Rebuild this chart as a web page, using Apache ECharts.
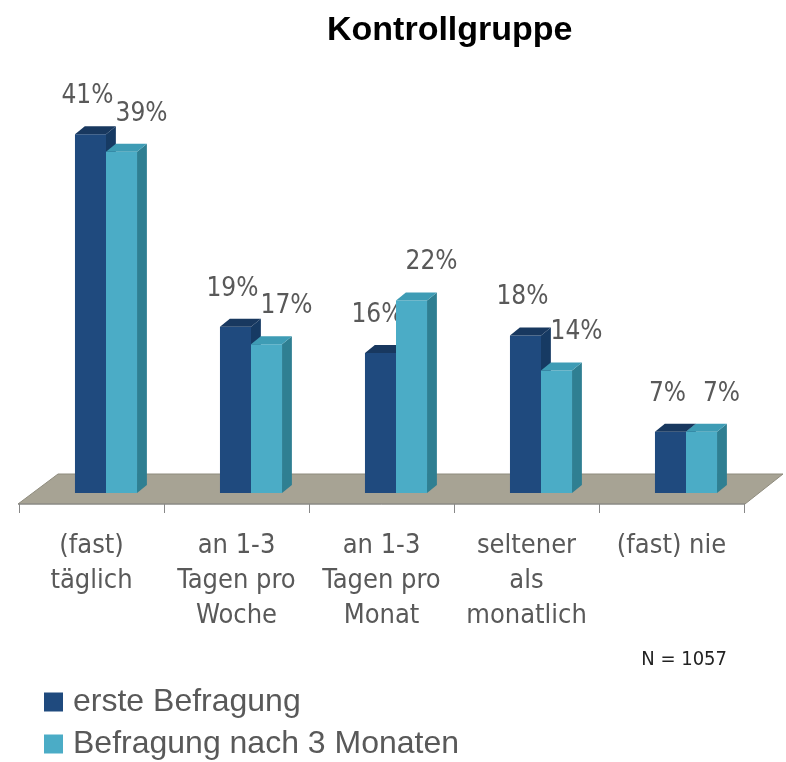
<!DOCTYPE html>
<html>
<head>
<meta charset="utf-8">
<title>Kontrollgruppe</title>
<script src="https://cdn.jsdelivr.net/npm/echarts@6/dist/echarts.min.js"></script>
<style>
  html, body { margin: 0; padding: 0; background: #fff; }
  #chart { width: 786px; height: 762px; }
</style>
</head>
<body>
<div id="chart"></div>
<script>
// Kategorien und Werte (Prozent)
const categories = [
  '(fast)\ntäglich',
  'an 1-3\nTagen pro\nWoche',
  'an 1-3\nTagen pro\nMonat',
  'seltener\nals\nmonatlich',
  '(fast) nie'
]
const seriesNames = ['erste Befragung', 'Befragung nach 3 Monaten']
const ersteBefragung = [41, 19, 16, 18, 7]
const nachDreiMonaten = [39, 17, 22, 14, 7]

const narrow = "'DejaVu Sans Condensed', 'Liberation Sans', sans-serif"
const arial = "'Liberation Sans', Arial, sans-serif"
const labelGray = '#595959'

// Farben: Vorderseite, Seite, Deckel
const darkColors = { front: '#1F4A7E', side: '#163A63', top: '#18385F' }
const lightColors = { front: '#4BACC6', side: '#2F7F92', top: '#3E9CB5' }

// 3D-Balken zeichnen
const bar3d = (colors, slot, labelShift) => (params, api) => {
  const idx = api.value(0)
  const val = api.value(1)
  const base = api.coord([idx, 0])
  const top = api.coord([idx, val])
  const band = api.size([1, 0])[0]
  const w = band * 0.214
  const dx = band * 0.068
  const dy = -8
  const x0 = base[0] - band * 0.114 + slot * w
  const x1 = x0 + w
  const y0 = base[1]
  const y1 = top[1]
  return {
    type: 'group',
    children: [
      {
        type: 'polygon',
        shape: { points: [[x1, y0], [x1 + dx, y0 + dy], [x1 + dx, y1 + dy], [x1, y1]] },
        style: { fill: colors.side }
      },
      {
        type: 'rect',
        shape: { x: x0, y: y1, width: w, height: y0 - y1 },
        style: { fill: colors.front }
      },
      {
        type: 'polygon',
        shape: { points: [[x0, y1], [x1, y1], [x1 + dx, y1 + dy], [x0 + dx, y1 + dy]] },
        style: { fill: colors.top }
      },
      {
        type: 'text',
        style: {
          x: (x0 + x1) / 2 + labelShift,
          y: y1 - 38,
          text: val + '%',
          fill: labelGray,
          font: '26px ' + narrow,
          align: 'center',
          verticalAlign: 'middle'
        }
      }
    ]
  }
}

// Boden (graue Fläche) mit Achsenlinie und Strichen
const renderFloor = (params, api) => {
  const cs = params.coordSys
  const y0 = api.coord([0, 0])[1]
  const band = api.size([1, 0])[0]
  const yEdge = y0 + 11
  const children = [
    {
      type: 'polygon',
      shape: {
        points: [
          [cs.x - 1, yEdge],
          [cs.x + cs.width + 1, yEdge],
          [cs.x + cs.width + 39, y0 - 19],
          [cs.x + 39, y0 - 19]
        ]
      },
      style: { fill: '#A7A394', stroke: '#8E8B7D', lineWidth: 1 }
    },
    {
      type: 'line',
      shape: { x1: cs.x - 1, y1: yEdge, x2: cs.x + cs.width + 1, y2: yEdge },
      style: { stroke: '#888', lineWidth: 1 }
    }
  ]
  const n = Math.round(cs.width / band)
  for (let k = 0; k <= n; k++) {
    const x = Math.round(cs.x + k * band) + 0.5
    children.push({
      type: 'line',
      shape: { x1: x, y1: yEdge, x2: x, y2: yEdge + 9 },
      style: { stroke: '#888', lineWidth: 1 }
    })
  }
  return { type: 'group', children }
}

// Legende: ein Eintrag pro Zeile
const legendFor = (name, top) => ({
  left: 44,
  top: top,
  padding: 0,
  icon: 'rect',
  itemWidth: 19,
  itemHeight: 19,
  data: [name],
  textStyle: { fontFamily: arial, fontSize: 32, color: labelGray, padding: [0, 0, 0, 5] }
})

const chart = echarts.init(document.getElementById('chart'))
chart.setOption({
  animation: false,
  title: {
    text: 'Kontrollgruppe',
    left: 322,
    top: 9,
    textStyle: { fontFamily: arial, fontSize: 34, fontWeight: 'bold', color: '#000' }
  },
  legend: [legendFor(seriesNames[0], 686), legendFor(seriesNames[1], 728)],
  grid: { left: 19, right: 42, top: 55.5, bottom: 269 },
  xAxis: {
    type: 'category',
    data: categories,
    axisLine: { show: false },
    axisTick: { show: false },
    axisLabel: { fontFamily: narrow, fontSize: 27, lineHeight: 35, margin: 35, color: labelGray, interval: 0 }
  },
  yAxis: { type: 'value', min: 0, max: 50, show: false },
  graphic: [
    {
      type: 'text',
      right: 59,
      top: 650,
      style: { text: 'N = 1057', font: '20px ' + narrow, fill: '#222' }
    }
  ],
  series: [
    {
      type: 'custom',
      silent: true,
      renderItem: renderFloor,
      data: [[0, 0]],
      z: 1
    },
    {
      name: seriesNames[0],
      type: 'custom',
      renderItem: bar3d(darkColors, 0, -3),
      itemStyle: { color: darkColors.front },
      data: ersteBefragung.map((v, i) => [i, v]),
      z: 2
    },
    {
      name: seriesNames[1],
      type: 'custom',
      renderItem: bar3d(lightColors, 1, 20),
      itemStyle: { color: lightColors.front },
      data: nachDreiMonaten.map((v, i) => [i, v]),
      z: 3
    }
  ]
})
</script>
</body>
</html>
